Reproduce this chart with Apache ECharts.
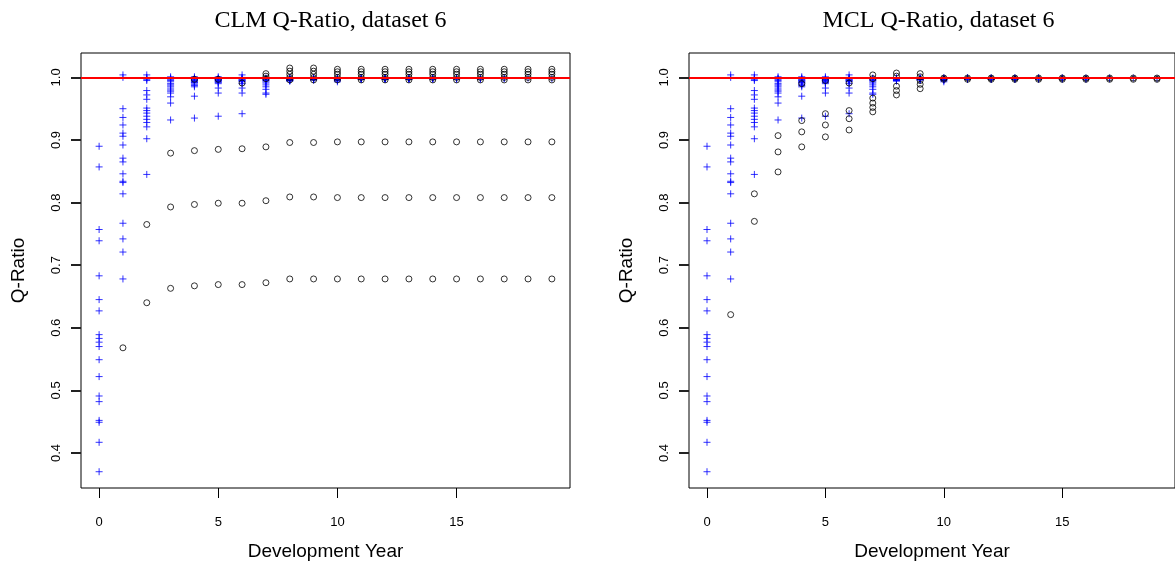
<!DOCTYPE html>
<html>
<head>
<meta charset="utf-8">
<script src="https://cdn.jsdelivr.net/npm/echarts@6/dist/echarts.min.js"></script>
<style>
html,body{margin:0;padding:0;background:#fff;}
#chart{width:1175px;height:566px;}
</style>
</head>
<body>
<div id="chart"></div>
<script>
// ---------- DATA ----------
const devYears = [0,1,2,3,4,5,6,7,8,9,10,11,12,13,14,15,16,17,18,19];
const xTicks = [0,5,10,15];
const yTicks = [0.4,0.5,0.6,0.7,0.8,0.9,1.0];
const panelTitles = ["CLM Q-Ratio, dataset 6", "MCL Q-Ratio, dataset 6"];

// Observed Q-ratios (blue +), one list per development year, same on both panels
const observedQ = [
  [0.890,0.857,0.757,0.739,0.683,0.645,0.627,0.589,0.583,0.577,0.570,0.549,0.522,0.491,0.482,0.452,0.449,0.417,0.370],
  [1.004,1.000,0.950,0.936,0.924,0.911,0.906,0.892,0.871,0.865,0.846,0.834,0.832,0.814,0.767,0.742,0.721,0.678],
  [1.004,1.000,0.999,0.997,0.995,0.979,0.972,0.965,0.951,0.947,0.943,0.938,0.933,0.928,0.921,0.902,0.845],
  [1.001,0.999,0.998,0.997,0.995,0.993,0.990,0.988,0.986,0.983,0.980,0.978,0.975,0.969,0.959,0.932],
  [1.001,0.999,0.998,0.997,0.996,0.995,0.994,0.993,0.992,0.991,0.989,0.987,0.985,0.970,0.935],
  [1.001,0.999,0.998,0.997,0.996,0.995,0.994,0.993,0.992,0.990,0.983,0.975,0.938,0.996],
  [1.004,1.000,0.999,0.998,0.997,0.996,0.995,0.994,0.993,0.990,0.983,0.975,0.942],
  [0.999,0.998,0.997,0.996,0.995,0.993,0.991,0.988,0.985,0.981,0.975,0.973],
  [0.999,0.998,0.997,0.996,0.995,0.994,0.998,0.997,0.996,0.995,0.999],
  [0.999,0.998,0.997,0.996,0.999,0.998,0.997,0.996,0.998,0.997],
  [0.999,0.998,0.997,0.996,0.995,0.993,0.998,0.999,0.997],
  [0.999,0.998,0.997,0.999,0.998,0.997,0.998,0.999],
  [0.999,0.998,0.997,0.999,0.998,0.997,0.998],
  [0.999,0.998,0.997,0.999,0.998,0.997],
  [0.999,0.998,0.997,0.999,0.998],
  [0.999,0.998,0.997,0.999],
  [0.999,0.998,0.997],
  [0.999,0.998],
  [0.999],
  [0.998]
];

// Modelled Q-ratios (black o), CLM panel
const clmQ = [
  [],[0.568],[0.765,0.640],[0.879,0.793,0.663],[0.883,0.797,0.667,0.997],[0.885,0.799,0.669,0.997],
  [0.886,0.799,0.669,0.991],[0.889,0.803,0.672,1.006,1.002,0.998],
  [0.896,0.809,0.678,1.015,1.010,1.005,1.000,0.996],[0.896,0.809,0.678,1.015,1.010,1.005,1.000,0.996],
  [0.897,0.808,0.678,1.013,1.009,1.005,1.000,0.996],[0.897,0.808,0.678,1.013,1.009,1.005,1.000,0.996],
  [0.897,0.808,0.678,1.013,1.009,1.005,1.000,0.996],[0.897,0.808,0.678,1.013,1.009,1.005,1.000,0.996],
  [0.897,0.808,0.678,1.013,1.009,1.005,1.000,0.996],[0.897,0.808,0.678,1.013,1.009,1.005,1.000,0.996],
  [0.897,0.808,0.678,1.013,1.009,1.005,1.000,0.996],[0.897,0.808,0.678,1.013,1.009,1.005,1.000,0.996],
  [0.897,0.808,0.678,1.013,1.009,1.005,1.000,0.996],[0.897,0.808,0.678,1.013,1.009,1.005,1.000,0.996]
];

// Modelled Q-ratios (black o), MCL panel
const mclQ = [
  [],[0.621],[0.814,0.770],[0.907,0.881,0.849],[0.990,0.931,0.913,0.889],[0.995,0.942,0.924,0.905],
  [0.991,0.947,0.934,0.916],[1.004,0.998,0.967,0.959,0.952,0.945],[1.007,1.002,0.986,0.979,0.972],
  [1.006,1.001,0.995,0.989,0.982],[0.999,0.997],[0.999,0.997],[0.999,0.997],[0.999,0.997],[0.999,0.997],
  [0.999,0.997],[0.999,0.997],[0.999,0.997],[0.999,0.997],[0.999,0.997]
];

const refLevel = 1.0;
// axis ranges (R style 4% extension)
const xRange = [-0.76, 19.76];
const yRange = [0.344, 1.039];

// ---------- BUILD ----------
function toPoints(lists){
  const out = [];
  lists.forEach((vals, i) => vals.forEach(v => out.push([devYears[i], v])));
  return out;
}
const plusSymbol = 'path://M0,5L10,5M5,0L5,10';
const fontSans = '"Liberation Sans", Arial, sans-serif';
const fontSerif = '"Liberation Serif", "Times New Roman", serif';

const grids = [
  {left: 81, top: 53, width: 489, height: 435},
  {left: 689, top: 53, width: 489, height: 435}
];

function xAxisFor(i){
  return {
    gridIndex: i, type: 'value', min: xRange[0], max: xRange[1],
    name: 'Development Year', nameLocation: 'middle', nameGap: 54,
    nameTextStyle: {fontFamily: fontSans, fontSize: 19, color: '#000'},
    axisLine: {show: false, onZero: false},
    splitLine: {show: false},
    axisTick: {show: true, length: 10, customValues: xTicks, lineStyle: {color: '#000', width: 1}},
    axisLabel: {customValues: xTicks, fontFamily: fontSans, fontSize: 13, color: '#000', margin: 28}
  };
}
function yAxisFor(i){
  return {
    gridIndex: i, type: 'value', min: yRange[0], max: yRange[1],
    name: 'Q-Ratio', nameLocation: 'middle', nameGap: 53, nameRotate: 90,
    nameTextStyle: {fontFamily: fontSans, fontSize: 19, color: '#000'},
    axisLine: {show: false, onZero: false},
    splitLine: {show: false},
    axisTick: {show: true, length: 10, customValues: yTicks, lineStyle: {color: '#222', width: 2}},
    axisLabel: {customValues: yTicks, rotate: 90, fontFamily: fontSans, fontSize: 13, color: '#000', margin: 18,
      formatter: v => v.toFixed(1)}
  };
}

const series = [];
[clmQ, mclQ].forEach((circ, i) => {
  series.push({
    type: 'scatter', xAxisIndex: i, yAxisIndex: i,
    data: toPoints(observedQ), symbol: plusSymbol, symbolSize: 7,
    itemStyle: {color: 'none', borderColor: '#0000ff', borderWidth: 1}
  });
  series.push({
    type: 'scatter', xAxisIndex: i, yAxisIndex: i,
    data: toPoints(circ), symbol: 'circle', symbolSize: 6,
    itemStyle: {color: 'rgba(0,0,0,0)', borderColor: '#000', borderWidth: 1},
    markLine: {symbol: ['none','none'], label: {show: false},
      lineStyle: {color: '#ff0000', width: 2, type: 'solid'},
      data: [{yAxis: refLevel}]}
  });
});

const chart = echarts.init(document.getElementById('chart'));
chart.setOption({
  animation: false,
  title: panelTitles.map((t, i) => ({
    text: t, left: grids[i].left + grids[i].width / 2, top: 4, textAlign: 'center',
    textStyle: {fontFamily: fontSerif, fontSize: 24, fontWeight: 'normal', color: '#000'}
  })),
  grid: grids.map(g => Object.assign({show: true, borderColor: '#000', borderWidth: 1}, g)),
  xAxis: [xAxisFor(0), xAxisFor(1)],
  yAxis: [yAxisFor(0), yAxisFor(1)],
  series: series
});
</script>
</body>
</html>
